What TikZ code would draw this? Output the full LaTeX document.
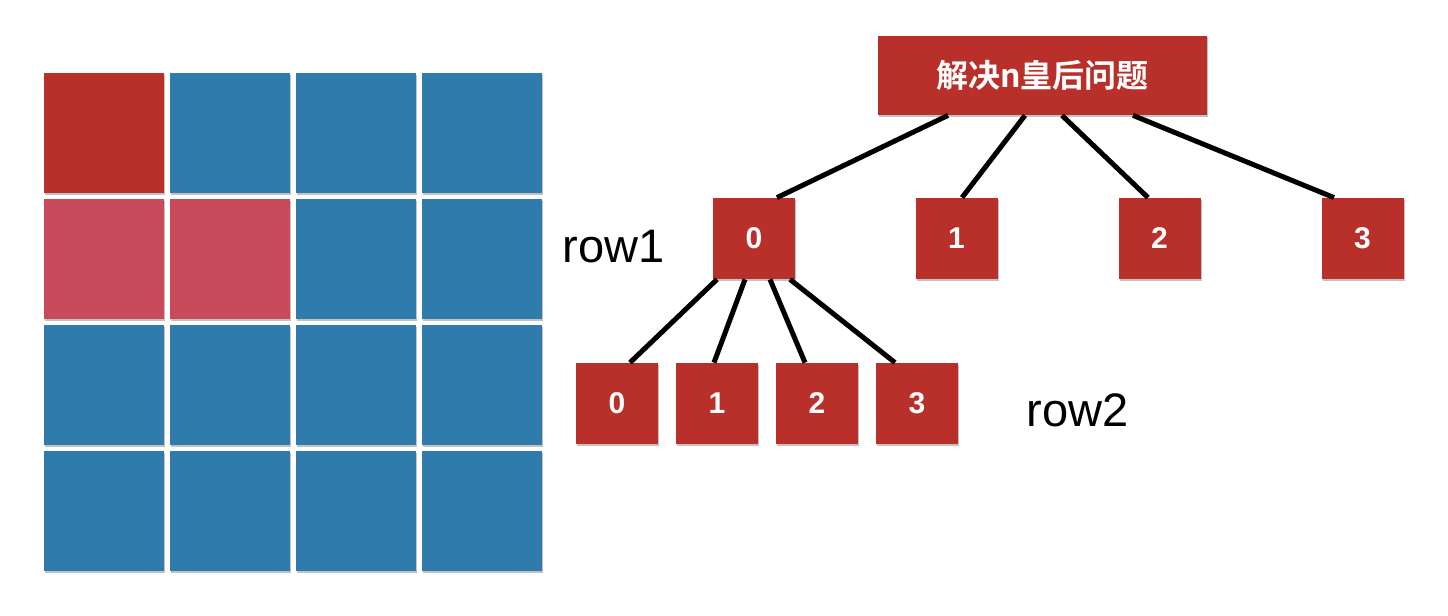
\documentclass[tikz,border=0pt]{standalone}
\usepackage{fontspec}
\setmainfont{Liberation Sans}
\newfontfamily\cjkbold[BoldFont={Noto Sans CJK SC Bold}]{Noto Sans CJK SC}
\definecolor{qred}{HTML}{B9302A}
\definecolor{qpink}{HTML}{C94B5B}
\definecolor{qblue}{HTML}{2F7CAC}
\definecolor{qshadow}{HTML}{9A9A9A}
\tikzset{
  box/.style={rectangle, fill=qred, text=white, font=\fontsize{15pt}{17pt}\selectfont\bfseries,
    minimum width=41pt, minimum height=40.5pt, inner sep=0pt},
  edge/.style={line width=2.5pt, black},
  lbl/.style={font=\fontsize{23.5pt}{26pt}\selectfont, inner sep=0pt, anchor=base west},
}
\begin{document}
\begin{tikzpicture}[x=0.5pt,y=-0.5pt]
\useasboundingbox (0,0) rectangle (1448,616);
% grid
\foreach \c in {0,1,2,3}{
  \foreach \r in {0,1,2,3}{
    \pgfmathsetmacro{\xa}{44+126*\c}
    \pgfmathsetmacro{\ya}{73+126*\r}
    \fill[qshadow!60] (\xa+1,\ya+2) rectangle ++(120,120);
    \fill[qblue] (\xa,\ya) rectangle ++(120,120);
  }
}
\fill[qred] (44,73) rectangle ++(120,120);
\fill[qpink] (44,199) rectangle ++(120,120);
\fill[qpink] (170,199) rectangle ++(120,120);
% tree
\fill[qshadow!60] (879,37) rectangle (1208,117);
\node[rectangle, fill=qred, text=white, minimum width=164.5pt, minimum height=39.5pt, inner sep=0pt,
  font=\cjkbold\bfseries\fontsize{16pt}{18pt}\selectfont] (root) at (1042.5,75.5) {解决n皇后问题};
\foreach \n/\x/\y/\t in {r0/754/238.5/0, r1/956.5/238.5/1, r2/1159.5/238.5/2, r3/1362.5/238.5/3,
  c0/617/403.5/0, c1/717/403.5/1, c2/817/403.5/2, c3/917/403.5/3}{
  \fill[qshadow!60] (\x-40,\y-39) rectangle (\x+42,\y+42);
  \node[box] (\n) at (\x,\y) {\t};
}
\draw[edge] ([xshift=-47.25pt]root.south) -- ([xshift=11.5pt]r0.north);
\draw[edge] ([xshift=-8.75pt]root.south) -- ([xshift=2.75pt]r1.north);
\draw[edge] ([xshift=9.75pt]root.south) -- ([xshift=-5.75pt]r2.north);
\draw[edge] ([xshift=45.25pt]root.south) -- ([xshift=-14.25pt]r3.north);
\draw[edge] ([xshift=-18.5pt]r0.south) -- ([xshift=6.5pt]c0.north);
\draw[edge] ([xshift=-4.5pt]r0.south) -- ([xshift=-1.5pt]c1.north);
\draw[edge] ([xshift=8pt]r0.south) -- ([xshift=-6pt]c2.north);
\draw[edge] ([xshift=18pt]r0.south) -- ([xshift=-11pt]c3.north);
\node[lbl] (row1) at (562,262) {row1};
\node[lbl] (row2) at (1026,426) {row2};
\end{tikzpicture}
\end{document}
